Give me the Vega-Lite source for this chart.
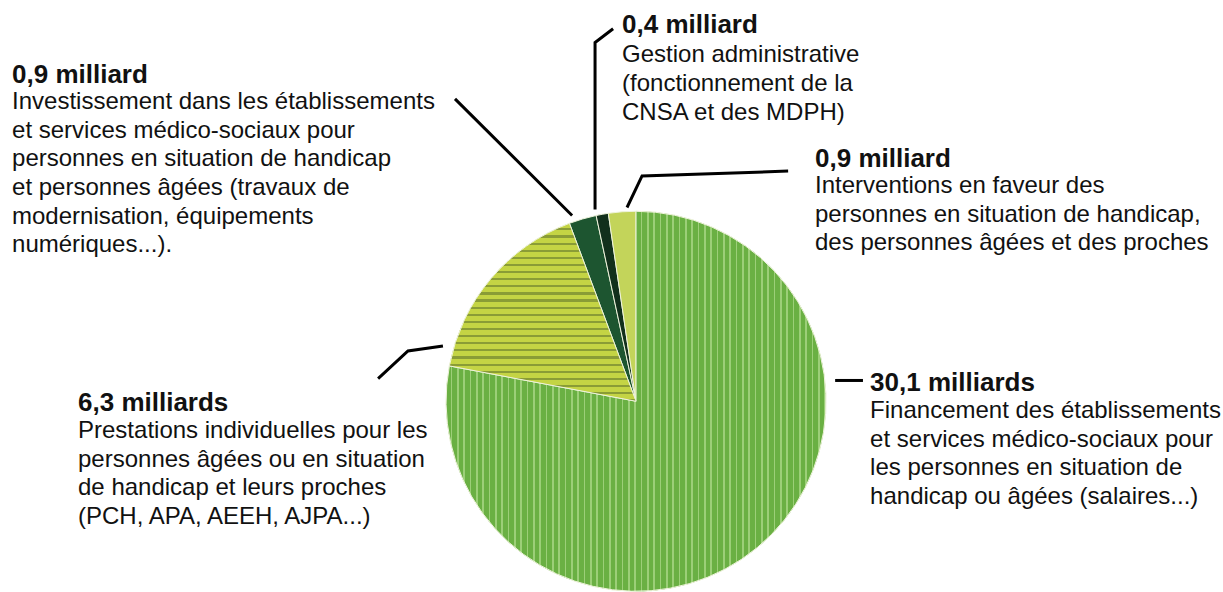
{
  "$schema": "https://vega.github.io/schema/vega-lite/v6.json",
  "width": 1223,
  "height": 592,
  "autosize": {"type": "fit", "contains": "padding"},
  "padding": 0,
  "background": "white",
  "config": {"view": {"stroke": null}, "font": "Liberation Sans"},
  "datasets": {
    "slices": [
      {"poste": "Financement des établissements", "value": 30.1, "ord": 1},
      {"poste": "Prestations individuelles", "value": 6.3, "ord": 2},
      {"poste": "Investissement", "value": 0.9, "ord": 3},
      {"poste": "Gestion administrative", "value": 0.4, "ord": 4},
      {"poste": "Interventions", "value": 0.9, "ord": 5}
    ],
    "labels": [
      {"id": "Investissement", "lx": -3.319, "hy": 1.714, "by": 1.574, "head": "0,9 milliard", "body": "Investissement dans les établissements\net services médico-sociaux pour\npersonnes en situation de handicap\net personnes âgées (travaux de\nmodernisation, équipements\nnumériques...)."},
      {"id": "Gestion", "lx": -0.0745, "hy": 1.98, "by": 1.824, "head": "0,4 milliard", "body": "Gestion administrative\n(fonctionnement de la\nCNSA et des MDPH)"},
      {"id": "Interventions", "lx": 0.952, "hy": 1.262, "by": 1.122, "head": "0,9 milliard", "body": "Interventions en faveur des\npersonnes en situation de handicap,\ndes personnes âgées et des proches"},
      {"id": "Prestations", "lx": -2.968, "hy": -0.0515, "by": -0.197, "head": "6,3 milliards", "body": "Prestations individuelles pour les\npersonnes âgées ou en situation\nde handicap et leurs proches\n(PCH, APA, AEEH, AJPA...)"},
      {"id": "Financement", "lx": 1.245, "hy": 0.055, "by": -0.09, "head": "30,1 milliards", "body": "Financement des établissements\net services médico-sociaux pour\nles personnes en situation de\nhandicap ou âgées (salaires...)"}
    ],
    "leaders": [
      {"id": "L1", "seq": 1, "lx": -0.963, "ly": 1.628},
      {"id": "L1", "seq": 2, "lx": -0.34, "ly": 1.0},
      {"id": "L2", "seq": 1, "lx": -0.122, "ly": 2.005},
      {"id": "L2", "seq": 2, "lx": -0.218, "ly": 1.931},
      {"id": "L2", "seq": 3, "lx": -0.218, "ly": 1.032},
      {"id": "L3", "seq": 1, "lx": 0.809, "ly": 1.239},
      {"id": "L3", "seq": 2, "lx": 0.032, "ly": 1.213},
      {"id": "L3", "seq": 3, "lx": -0.048, "ly": 1.043},
      {"id": "L4", "seq": 1, "lx": -1.027, "ly": 0.298},
      {"id": "L4", "seq": 2, "lx": -1.213, "ly": 0.271},
      {"id": "L4", "seq": 3, "lx": -1.372, "ly": 0.122},
      {"id": "L5", "seq": 1, "lx": 1.059, "ly": 0.112},
      {"id": "L5", "seq": 2, "lx": 1.207, "ly": 0.112}
    ]
  },
  "layer": [
    {
      "data": {"name": "slices"},
      "mark": {"type": "arc", "outerRadius": 190, "stroke": "#eef3dc", "strokeWidth": 1},
      "encoding": {
        "theta": {"field": "value", "type": "quantitative", "stack": true},
        "order": {"field": "ord", "type": "quantitative"},
        "color": {
          "field": "poste",
          "type": "nominal",
          "scale": {
            "domain": ["Financement des établissements", "Prestations individuelles", "Investissement", "Gestion administrative", "Interventions"],
            "range": ["#6ab043", "#c4d444", "#1d5530", "#12301c", "#c3d45a"]
          },
          "legend": null
        },
        "x": {"datum": 0, "type": "quantitative", "scale": {"domain": [-3.383, 3.122], "nice": false, "zero": false}, "axis": null},
        "y": {"datum": 0, "type": "quantitative", "scale": {"domain": [-0.989, 2.16], "nice": false, "zero": false}, "axis": null}
      }
    },
    {
      "data": {"name": "slices"},
      "transform": [
        {"stack": "value", "groupby": [], "sort": [{"field": "ord", "order": "ascending"}], "as": ["t0", "t1"]},
        {"filter": "datum.ord == 1"}
      ],
      "mark": {
        "type": "arc",
        "outerRadius": 190,
        "stroke": "#eef3dc",
        "strokeWidth": 1,
        "fill": {
          "gradient": "linear", "x1": 0, "y1": 0, "x2": 1, "y2": 0,
          "stops": [
            {"offset": 0, "color": "#6ab043"}, {"offset": 0.0125, "color": "#6ab043"}, {"offset": 0.0125, "color": "#9ccf78"}, {"offset": 0.0167, "color": "#9ccf78"},
            {"offset": 0.0167, "color": "#6ab043"}, {"offset": 0.0292, "color": "#6ab043"}, {"offset": 0.0292, "color": "#9ccf78"}, {"offset": 0.0333, "color": "#9ccf78"},
            {"offset": 0.0333, "color": "#6ab043"}, {"offset": 0.0458, "color": "#6ab043"}, {"offset": 0.0458, "color": "#9ccf78"}, {"offset": 0.05, "color": "#9ccf78"},
            {"offset": 0.05, "color": "#6ab043"}, {"offset": 0.0625, "color": "#6ab043"}, {"offset": 0.0625, "color": "#9ccf78"}, {"offset": 0.0667, "color": "#9ccf78"},
            {"offset": 0.0667, "color": "#6ab043"}, {"offset": 0.0792, "color": "#6ab043"}, {"offset": 0.0792, "color": "#9ccf78"}, {"offset": 0.0833, "color": "#9ccf78"},
            {"offset": 0.0833, "color": "#6ab043"}, {"offset": 0.0958, "color": "#6ab043"}, {"offset": 0.0958, "color": "#9ccf78"}, {"offset": 0.1, "color": "#9ccf78"},
            {"offset": 0.1, "color": "#6ab043"}, {"offset": 0.1125, "color": "#6ab043"}, {"offset": 0.1125, "color": "#9ccf78"}, {"offset": 0.1167, "color": "#9ccf78"},
            {"offset": 0.1167, "color": "#6ab043"}, {"offset": 0.1292, "color": "#6ab043"}, {"offset": 0.1292, "color": "#9ccf78"}, {"offset": 0.1333, "color": "#9ccf78"},
            {"offset": 0.1333, "color": "#6ab043"}, {"offset": 0.1458, "color": "#6ab043"}, {"offset": 0.1458, "color": "#9ccf78"}, {"offset": 0.15, "color": "#9ccf78"},
            {"offset": 0.15, "color": "#6ab043"}, {"offset": 0.1625, "color": "#6ab043"}, {"offset": 0.1625, "color": "#9ccf78"}, {"offset": 0.1667, "color": "#9ccf78"},
            {"offset": 0.1667, "color": "#6ab043"}, {"offset": 0.1792, "color": "#6ab043"}, {"offset": 0.1792, "color": "#9ccf78"}, {"offset": 0.1833, "color": "#9ccf78"},
            {"offset": 0.1833, "color": "#6ab043"}, {"offset": 0.1958, "color": "#6ab043"}, {"offset": 0.1958, "color": "#9ccf78"}, {"offset": 0.2, "color": "#9ccf78"},
            {"offset": 0.2, "color": "#6ab043"}, {"offset": 0.2125, "color": "#6ab043"}, {"offset": 0.2125, "color": "#9ccf78"}, {"offset": 0.2167, "color": "#9ccf78"},
            {"offset": 0.2167, "color": "#6ab043"}, {"offset": 0.2292, "color": "#6ab043"}, {"offset": 0.2292, "color": "#9ccf78"}, {"offset": 0.2333, "color": "#9ccf78"},
            {"offset": 0.2333, "color": "#6ab043"}, {"offset": 0.2458, "color": "#6ab043"}, {"offset": 0.2458, "color": "#9ccf78"}, {"offset": 0.25, "color": "#9ccf78"},
            {"offset": 0.25, "color": "#6ab043"}, {"offset": 0.2625, "color": "#6ab043"}, {"offset": 0.2625, "color": "#9ccf78"}, {"offset": 0.2667, "color": "#9ccf78"},
            {"offset": 0.2667, "color": "#6ab043"}, {"offset": 0.2792, "color": "#6ab043"}, {"offset": 0.2792, "color": "#9ccf78"}, {"offset": 0.2833, "color": "#9ccf78"},
            {"offset": 0.2833, "color": "#6ab043"}, {"offset": 0.2958, "color": "#6ab043"}, {"offset": 0.2958, "color": "#9ccf78"}, {"offset": 0.3, "color": "#9ccf78"},
            {"offset": 0.3, "color": "#6ab043"}, {"offset": 0.3125, "color": "#6ab043"}, {"offset": 0.3125, "color": "#9ccf78"}, {"offset": 0.3167, "color": "#9ccf78"},
            {"offset": 0.3167, "color": "#6ab043"}, {"offset": 0.3292, "color": "#6ab043"}, {"offset": 0.3292, "color": "#9ccf78"}, {"offset": 0.3333, "color": "#9ccf78"},
            {"offset": 0.3333, "color": "#6ab043"}, {"offset": 0.3458, "color": "#6ab043"}, {"offset": 0.3458, "color": "#9ccf78"}, {"offset": 0.35, "color": "#9ccf78"},
            {"offset": 0.35, "color": "#6ab043"}, {"offset": 0.3625, "color": "#6ab043"}, {"offset": 0.3625, "color": "#9ccf78"}, {"offset": 0.3667, "color": "#9ccf78"},
            {"offset": 0.3667, "color": "#6ab043"}, {"offset": 0.3792, "color": "#6ab043"}, {"offset": 0.3792, "color": "#9ccf78"}, {"offset": 0.3833, "color": "#9ccf78"},
            {"offset": 0.3833, "color": "#6ab043"}, {"offset": 0.3958, "color": "#6ab043"}, {"offset": 0.3958, "color": "#9ccf78"}, {"offset": 0.4, "color": "#9ccf78"},
            {"offset": 0.4, "color": "#6ab043"}, {"offset": 0.4125, "color": "#6ab043"}, {"offset": 0.4125, "color": "#9ccf78"}, {"offset": 0.4167, "color": "#9ccf78"},
            {"offset": 0.4167, "color": "#6ab043"}, {"offset": 0.4292, "color": "#6ab043"}, {"offset": 0.4292, "color": "#9ccf78"}, {"offset": 0.4333, "color": "#9ccf78"},
            {"offset": 0.4333, "color": "#6ab043"}, {"offset": 0.4458, "color": "#6ab043"}, {"offset": 0.4458, "color": "#9ccf78"}, {"offset": 0.45, "color": "#9ccf78"},
            {"offset": 0.45, "color": "#6ab043"}, {"offset": 0.4625, "color": "#6ab043"}, {"offset": 0.4625, "color": "#9ccf78"}, {"offset": 0.4667, "color": "#9ccf78"},
            {"offset": 0.4667, "color": "#6ab043"}, {"offset": 0.4792, "color": "#6ab043"}, {"offset": 0.4792, "color": "#9ccf78"}, {"offset": 0.4833, "color": "#9ccf78"},
            {"offset": 0.4833, "color": "#6ab043"}, {"offset": 0.4958, "color": "#6ab043"}, {"offset": 0.4958, "color": "#9ccf78"}, {"offset": 0.5, "color": "#9ccf78"},
            {"offset": 0.5, "color": "#6ab043"}, {"offset": 0.5125, "color": "#6ab043"}, {"offset": 0.5125, "color": "#9ccf78"}, {"offset": 0.5167, "color": "#9ccf78"},
            {"offset": 0.5167, "color": "#6ab043"}, {"offset": 0.5292, "color": "#6ab043"}, {"offset": 0.5292, "color": "#9ccf78"}, {"offset": 0.5333, "color": "#9ccf78"},
            {"offset": 0.5333, "color": "#6ab043"}, {"offset": 0.5458, "color": "#6ab043"}, {"offset": 0.5458, "color": "#9ccf78"}, {"offset": 0.55, "color": "#9ccf78"},
            {"offset": 0.55, "color": "#6ab043"}, {"offset": 0.5625, "color": "#6ab043"}, {"offset": 0.5625, "color": "#9ccf78"}, {"offset": 0.5667, "color": "#9ccf78"},
            {"offset": 0.5667, "color": "#6ab043"}, {"offset": 0.5792, "color": "#6ab043"}, {"offset": 0.5792, "color": "#9ccf78"}, {"offset": 0.5833, "color": "#9ccf78"},
            {"offset": 0.5833, "color": "#6ab043"}, {"offset": 0.5958, "color": "#6ab043"}, {"offset": 0.5958, "color": "#9ccf78"}, {"offset": 0.6, "color": "#9ccf78"},
            {"offset": 0.6, "color": "#6ab043"}, {"offset": 0.6125, "color": "#6ab043"}, {"offset": 0.6125, "color": "#9ccf78"}, {"offset": 0.6167, "color": "#9ccf78"},
            {"offset": 0.6167, "color": "#6ab043"}, {"offset": 0.6292, "color": "#6ab043"}, {"offset": 0.6292, "color": "#9ccf78"}, {"offset": 0.6333, "color": "#9ccf78"},
            {"offset": 0.6333, "color": "#6ab043"}, {"offset": 0.6458, "color": "#6ab043"}, {"offset": 0.6458, "color": "#9ccf78"}, {"offset": 0.65, "color": "#9ccf78"},
            {"offset": 0.65, "color": "#6ab043"}, {"offset": 0.6625, "color": "#6ab043"}, {"offset": 0.6625, "color": "#9ccf78"}, {"offset": 0.6667, "color": "#9ccf78"},
            {"offset": 0.6667, "color": "#6ab043"}, {"offset": 0.6792, "color": "#6ab043"}, {"offset": 0.6792, "color": "#9ccf78"}, {"offset": 0.6833, "color": "#9ccf78"},
            {"offset": 0.6833, "color": "#6ab043"}, {"offset": 0.6958, "color": "#6ab043"}, {"offset": 0.6958, "color": "#9ccf78"}, {"offset": 0.7, "color": "#9ccf78"},
            {"offset": 0.7, "color": "#6ab043"}, {"offset": 0.7125, "color": "#6ab043"}, {"offset": 0.7125, "color": "#9ccf78"}, {"offset": 0.7167, "color": "#9ccf78"},
            {"offset": 0.7167, "color": "#6ab043"}, {"offset": 0.7292, "color": "#6ab043"}, {"offset": 0.7292, "color": "#9ccf78"}, {"offset": 0.7333, "color": "#9ccf78"},
            {"offset": 0.7333, "color": "#6ab043"}, {"offset": 0.7458, "color": "#6ab043"}, {"offset": 0.7458, "color": "#9ccf78"}, {"offset": 0.75, "color": "#9ccf78"},
            {"offset": 0.75, "color": "#6ab043"}, {"offset": 0.7625, "color": "#6ab043"}, {"offset": 0.7625, "color": "#9ccf78"}, {"offset": 0.7667, "color": "#9ccf78"},
            {"offset": 0.7667, "color": "#6ab043"}, {"offset": 0.7792, "color": "#6ab043"}, {"offset": 0.7792, "color": "#9ccf78"}, {"offset": 0.7833, "color": "#9ccf78"},
            {"offset": 0.7833, "color": "#6ab043"}, {"offset": 0.7958, "color": "#6ab043"}, {"offset": 0.7958, "color": "#9ccf78"}, {"offset": 0.8, "color": "#9ccf78"},
            {"offset": 0.8, "color": "#6ab043"}, {"offset": 0.8125, "color": "#6ab043"}, {"offset": 0.8125, "color": "#9ccf78"}, {"offset": 0.8167, "color": "#9ccf78"},
            {"offset": 0.8167, "color": "#6ab043"}, {"offset": 0.8292, "color": "#6ab043"}, {"offset": 0.8292, "color": "#9ccf78"}, {"offset": 0.8333, "color": "#9ccf78"},
            {"offset": 0.8333, "color": "#6ab043"}, {"offset": 0.8458, "color": "#6ab043"}, {"offset": 0.8458, "color": "#9ccf78"}, {"offset": 0.85, "color": "#9ccf78"},
            {"offset": 0.85, "color": "#6ab043"}, {"offset": 0.8625, "color": "#6ab043"}, {"offset": 0.8625, "color": "#9ccf78"}, {"offset": 0.8667, "color": "#9ccf78"},
            {"offset": 0.8667, "color": "#6ab043"}, {"offset": 0.8792, "color": "#6ab043"}, {"offset": 0.8792, "color": "#9ccf78"}, {"offset": 0.8833, "color": "#9ccf78"},
            {"offset": 0.8833, "color": "#6ab043"}, {"offset": 0.8958, "color": "#6ab043"}, {"offset": 0.8958, "color": "#9ccf78"}, {"offset": 0.9, "color": "#9ccf78"},
            {"offset": 0.9, "color": "#6ab043"}, {"offset": 0.9125, "color": "#6ab043"}, {"offset": 0.9125, "color": "#9ccf78"}, {"offset": 0.9167, "color": "#9ccf78"},
            {"offset": 0.9167, "color": "#6ab043"}, {"offset": 0.9292, "color": "#6ab043"}, {"offset": 0.9292, "color": "#9ccf78"}, {"offset": 0.9333, "color": "#9ccf78"},
            {"offset": 0.9333, "color": "#6ab043"}, {"offset": 0.9458, "color": "#6ab043"}, {"offset": 0.9458, "color": "#9ccf78"}, {"offset": 0.95, "color": "#9ccf78"},
            {"offset": 0.95, "color": "#6ab043"}, {"offset": 0.9625, "color": "#6ab043"}, {"offset": 0.9625, "color": "#9ccf78"}, {"offset": 0.9667, "color": "#9ccf78"},
            {"offset": 0.9667, "color": "#6ab043"}, {"offset": 0.9792, "color": "#6ab043"}, {"offset": 0.9792, "color": "#9ccf78"}, {"offset": 0.9833, "color": "#9ccf78"},
            {"offset": 0.9833, "color": "#6ab043"}, {"offset": 0.9958, "color": "#6ab043"}, {"offset": 0.9958, "color": "#9ccf78"}, {"offset": 1, "color": "#9ccf78"}
          ]
        }
      },
      "encoding": {
        "theta": {"field": "t0", "type": "quantitative"},
        "theta2": {"field": "t1"},
        "x": {"datum": 0, "type": "quantitative", "scale": {"domain": [-3.383, 3.122], "nice": false, "zero": false}, "axis": null},
        "y": {"datum": 0, "type": "quantitative", "scale": {"domain": [-0.989, 2.16], "nice": false, "zero": false}, "axis": null}
      }
    },
    {
      "data": {"name": "slices"},
      "transform": [
        {"stack": "value", "groupby": [], "sort": [{"field": "ord", "order": "ascending"}], "as": ["t0", "t1"]},
        {"filter": "datum.ord == 2"}
      ],
      "mark": {
        "type": "arc",
        "outerRadius": 190,
        "stroke": "#eef3dc",
        "strokeWidth": 1,
        "fill": {
          "gradient": "linear", "x1": 0, "y1": 0, "x2": 0, "y2": 1,
          "stops": [
            {"offset": 0, "color": "#c4d444"}, {"offset": 0.028, "color": "#c4d444"}, {"offset": 0.028, "color": "#8a9c36"}, {"offset": 0.04, "color": "#8a9c36"},
            {"offset": 0.04, "color": "#c4d444"}, {"offset": 0.068, "color": "#c4d444"}, {"offset": 0.068, "color": "#8a9c36"}, {"offset": 0.08, "color": "#8a9c36"},
            {"offset": 0.08, "color": "#c4d444"}, {"offset": 0.108, "color": "#c4d444"}, {"offset": 0.108, "color": "#8a9c36"}, {"offset": 0.12, "color": "#8a9c36"},
            {"offset": 0.12, "color": "#c4d444"}, {"offset": 0.148, "color": "#c4d444"}, {"offset": 0.148, "color": "#8a9c36"}, {"offset": 0.16, "color": "#8a9c36"},
            {"offset": 0.16, "color": "#c4d444"}, {"offset": 0.188, "color": "#c4d444"}, {"offset": 0.188, "color": "#8a9c36"}, {"offset": 0.2, "color": "#8a9c36"},
            {"offset": 0.2, "color": "#c4d444"}, {"offset": 0.228, "color": "#c4d444"}, {"offset": 0.228, "color": "#8a9c36"}, {"offset": 0.24, "color": "#8a9c36"},
            {"offset": 0.24, "color": "#c4d444"}, {"offset": 0.268, "color": "#c4d444"}, {"offset": 0.268, "color": "#8a9c36"}, {"offset": 0.28, "color": "#8a9c36"},
            {"offset": 0.28, "color": "#c4d444"}, {"offset": 0.308, "color": "#c4d444"}, {"offset": 0.308, "color": "#8a9c36"}, {"offset": 0.32, "color": "#8a9c36"},
            {"offset": 0.32, "color": "#c4d444"}, {"offset": 0.348, "color": "#c4d444"}, {"offset": 0.348, "color": "#8a9c36"}, {"offset": 0.36, "color": "#8a9c36"},
            {"offset": 0.36, "color": "#c4d444"}, {"offset": 0.388, "color": "#c4d444"}, {"offset": 0.388, "color": "#8a9c36"}, {"offset": 0.4, "color": "#8a9c36"},
            {"offset": 0.4, "color": "#c4d444"}, {"offset": 0.428, "color": "#c4d444"}, {"offset": 0.428, "color": "#8a9c36"}, {"offset": 0.44, "color": "#8a9c36"},
            {"offset": 0.44, "color": "#c4d444"}, {"offset": 0.468, "color": "#c4d444"}, {"offset": 0.468, "color": "#8a9c36"}, {"offset": 0.48, "color": "#8a9c36"},
            {"offset": 0.48, "color": "#c4d444"}, {"offset": 0.508, "color": "#c4d444"}, {"offset": 0.508, "color": "#8a9c36"}, {"offset": 0.52, "color": "#8a9c36"},
            {"offset": 0.52, "color": "#c4d444"}, {"offset": 0.548, "color": "#c4d444"}, {"offset": 0.548, "color": "#8a9c36"}, {"offset": 0.56, "color": "#8a9c36"},
            {"offset": 0.56, "color": "#c4d444"}, {"offset": 0.588, "color": "#c4d444"}, {"offset": 0.588, "color": "#8a9c36"}, {"offset": 0.6, "color": "#8a9c36"},
            {"offset": 0.6, "color": "#c4d444"}, {"offset": 0.628, "color": "#c4d444"}, {"offset": 0.628, "color": "#8a9c36"}, {"offset": 0.64, "color": "#8a9c36"},
            {"offset": 0.64, "color": "#c4d444"}, {"offset": 0.668, "color": "#c4d444"}, {"offset": 0.668, "color": "#8a9c36"}, {"offset": 0.68, "color": "#8a9c36"},
            {"offset": 0.68, "color": "#c4d444"}, {"offset": 0.708, "color": "#c4d444"}, {"offset": 0.708, "color": "#8a9c36"}, {"offset": 0.72, "color": "#8a9c36"},
            {"offset": 0.72, "color": "#c4d444"}, {"offset": 0.748, "color": "#c4d444"}, {"offset": 0.748, "color": "#8a9c36"}, {"offset": 0.76, "color": "#8a9c36"},
            {"offset": 0.76, "color": "#c4d444"}, {"offset": 0.788, "color": "#c4d444"}, {"offset": 0.788, "color": "#8a9c36"}, {"offset": 0.8, "color": "#8a9c36"},
            {"offset": 0.8, "color": "#c4d444"}, {"offset": 0.828, "color": "#c4d444"}, {"offset": 0.828, "color": "#8a9c36"}, {"offset": 0.84, "color": "#8a9c36"},
            {"offset": 0.84, "color": "#c4d444"}, {"offset": 0.868, "color": "#c4d444"}, {"offset": 0.868, "color": "#8a9c36"}, {"offset": 0.88, "color": "#8a9c36"},
            {"offset": 0.88, "color": "#c4d444"}, {"offset": 0.908, "color": "#c4d444"}, {"offset": 0.908, "color": "#8a9c36"}, {"offset": 0.92, "color": "#8a9c36"},
            {"offset": 0.92, "color": "#c4d444"}, {"offset": 0.948, "color": "#c4d444"}, {"offset": 0.948, "color": "#8a9c36"}, {"offset": 0.96, "color": "#8a9c36"},
            {"offset": 0.96, "color": "#c4d444"}, {"offset": 0.988, "color": "#c4d444"}, {"offset": 0.988, "color": "#8a9c36"}, {"offset": 1, "color": "#8a9c36"}
          ]
        }
      },
      "encoding": {
        "theta": {"field": "t0", "type": "quantitative"},
        "theta2": {"field": "t1"},
        "x": {"datum": 0, "type": "quantitative", "scale": {"domain": [-3.383, 3.122], "nice": false, "zero": false}, "axis": null},
        "y": {"datum": 0, "type": "quantitative", "scale": {"domain": [-0.989, 2.16], "nice": false, "zero": false}, "axis": null}
      }
    },
    {
      "data": {"name": "leaders"},
      "mark": {"type": "line", "color": "black", "strokeWidth": 3, "strokeCap": "butt", "strokeJoin": "miter"},
      "encoding": {
        "x": {"field": "lx", "type": "quantitative", "scale": {"domain": [-3.383, 3.122], "nice": false, "zero": false}, "axis": null},
        "y": {"field": "ly", "type": "quantitative", "scale": {"domain": [-0.989, 2.16], "nice": false, "zero": false}, "axis": null},
        "detail": {"field": "id", "type": "nominal"},
        "order": {"field": "seq", "type": "quantitative"}
      }
    },
    {
      "data": {"name": "labels"},
      "mark": {"type": "text", "align": "left", "baseline": "alphabetic", "fontSize": 26, "fontWeight": "bold", "color": "#111111"},
      "encoding": {
        "x": {"field": "lx", "type": "quantitative", "scale": {"domain": [-3.383, 3.122], "nice": false, "zero": false}, "axis": null},
        "y": {"field": "hy", "type": "quantitative", "scale": {"domain": [-0.989, 2.16], "nice": false, "zero": false}, "axis": null},
        "text": {"field": "head", "type": "nominal"}
      }
    },
    {
      "data": {"name": "labels"},
      "mark": {"type": "text", "align": "left", "baseline": "alphabetic", "fontSize": 24, "lineHeight": 28.7, "lineBreak": "\n", "color": "#111111"},
      "encoding": {
        "x": {"field": "lx", "type": "quantitative", "scale": {"domain": [-3.383, 3.122], "nice": false, "zero": false}, "axis": null},
        "y": {"field": "by", "type": "quantitative", "scale": {"domain": [-0.989, 2.16], "nice": false, "zero": false}, "axis": null},
        "text": {"field": "body", "type": "nominal"}
      }
    }
  ]
}
